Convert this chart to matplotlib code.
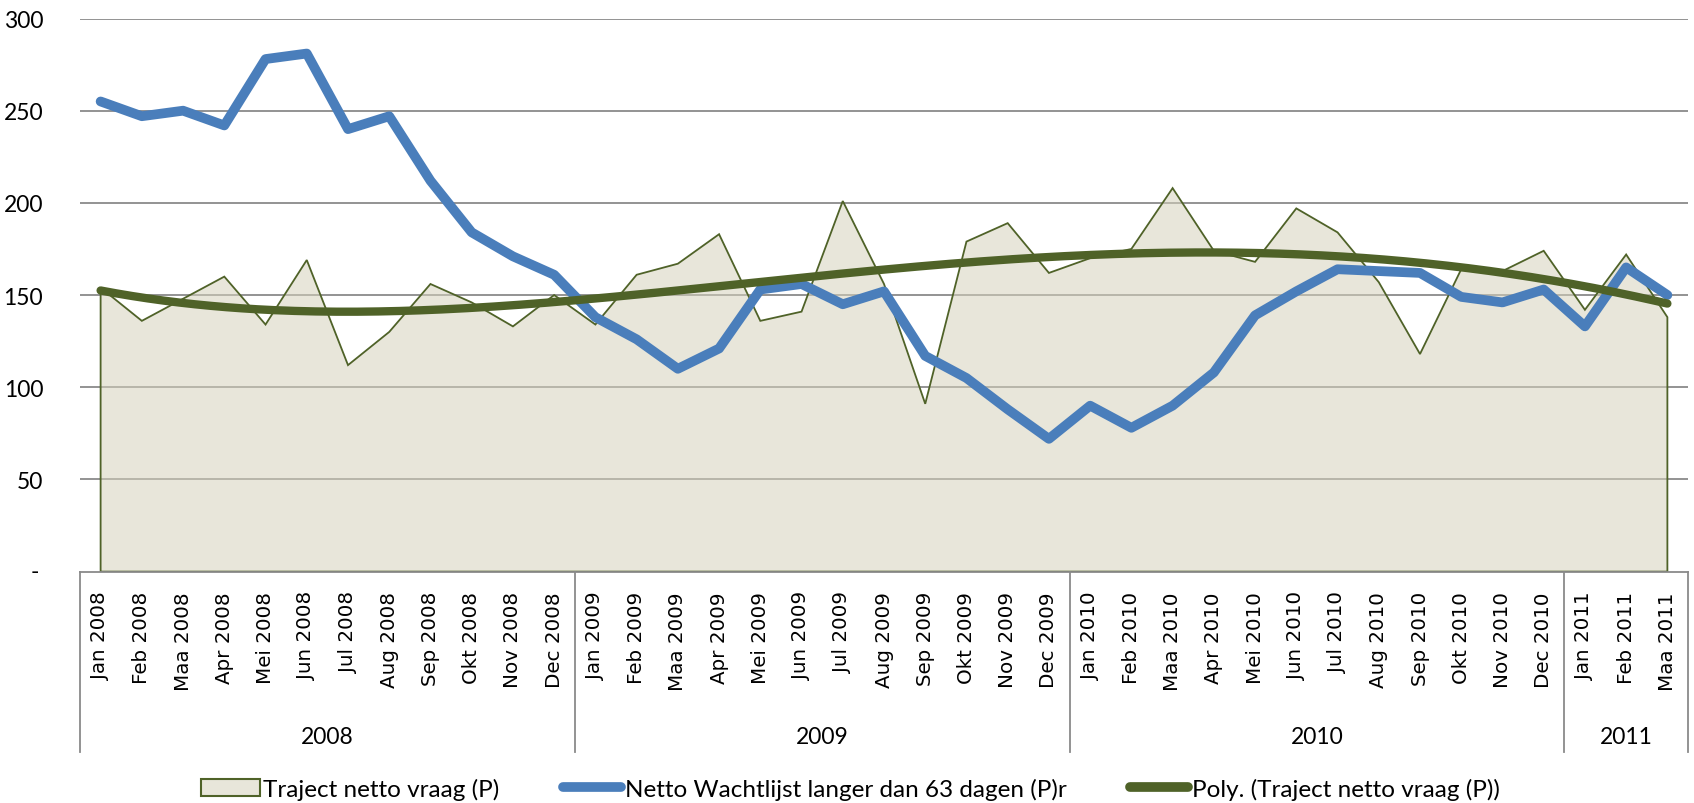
import numpy as np
import matplotlib
matplotlib.use("Agg")
import matplotlib.pyplot as plt
from matplotlib.patches import Polygon, Patch
from matplotlib.lines import Line2D
import matplotlib.transforms as mtransforms

months = ["Jan", "Feb", "Maa", "Apr", "Mei", "Jun", "Jul", "Aug", "Sep", "Okt", "Nov", "Dec"]
years = ["2008", "2009", "2010", "2011"]
months_per_year = [12, 12, 12, 3]
month_labels = [f"{m} {y}" for y, n in zip(years, months_per_year) for m in months[:n]]

traject = [154, 136, 148, 160, 134, 169, 112, 130, 156, 146, 133, 150,
           134, 161, 167, 183, 136, 141, 201, 156, 91, 179, 189, 162,
           170, 175, 208, 174, 168, 197, 184, 157, 118, 164, 163, 174,
           142, 172, 138]
wachtlijst = [255, 247, 250, 242, 278, 281, 240, 247, 212, 184, 171, 161,
              138, 126, 110, 121, 153, 156, 145, 152, 117, 105, 88, 72,
              90, 78, 90, 108, 139, 152, 164, 163, 162, 149, 146, 153,
              133, 165, 150]

label_area = "Traject netto vraag (P)"
label_line = "Netto Wachtlijst langer dan 63 dagen (P)r"
label_trend = "Poly. (Traject netto vraag (P))"

olive = "#4F6228"
blue = "#4A7EBB"
fill = (0.839, 0.827, 0.737, 0.55)
grid_col = "#8A8A8A"
txt_font = ["Lato", "DejaVu Sans"]

x = np.arange(len(traject))
# polynomial trendline like Excel
coef = np.polyfit(x, traject, 4)
xt = np.linspace(x[0], x[-1], 300)
trend = np.polyval(coef, xt)

fig = plt.figure(figsize=(16.94, 8.04), dpi=100)
ax = fig.add_axes([80 / 1694, 1 - 572.6 / 804, 1608 / 1694, 553.1 / 804])

for v in range(50, 301, 50):
    ax.axhline(v, color=grid_col, lw=1.3, zorder=0)

pts = [(x[0], 0)] + list(zip(x, traject)) + [(x[-1], 0)]
ax.add_patch(Polygon(pts, closed=True, facecolor=fill, edgecolor=olive, lw=1.3, zorder=1))

ax.plot(x, wachtlijst, color=blue, lw=7, solid_capstyle="round", solid_joinstyle="round", zorder=3)
ax.plot(xt, trend, color=olive, lw=6, solid_capstyle="round", zorder=4)

ax.set_xlim(-0.5, len(x) - 0.5)
ax.set_ylim(0, 300)

for s in ["top", "right", "left"]:
    ax.spines[s].set_visible(False)
ax.spines["bottom"].set_color(grid_col)
ax.spines["bottom"].set_linewidth(1.3)

ax.set_yticks(range(50, 301, 50))
ax.set_yticklabels([str(v) for v in range(50, 301, 50)], family=txt_font, fontsize=16.5)
ax.tick_params(axis="y", length=0, pad=26.5)
ax.text(-0.028, 0, "-", transform=mtransforms.blended_transform_factory(ax.transAxes, ax.transData),
        ha="center", va="center", fontsize=16.5, family=txt_font)

ax.set_xticks(x)
ax.set_xticklabels(month_labels, rotation=90, fontsize=14.3, family="DejaVu Sans", va="top")
ax.tick_params(axis="x", length=0, pad=14)

# multi-level category axis
trans = mtransforms.blended_transform_factory(ax.transData, ax.transAxes)
edges = np.concatenate([[0], np.cumsum(months_per_year)]) - 0.5
for e in edges:
    ax.plot([e, e], [0, -0.326], transform=trans, color=grid_col, lw=1.3, clip_on=False)
for y, a, b in zip(years, edges[:-1], edges[1:]):
    ax.text((a + b) / 2, -0.298, y, transform=trans, ha="center", va="center",
            fontsize=16.5, family=txt_font)

handles = [Patch(facecolor=fill, edgecolor=olive, lw=1.5),
           Line2D([], [], color=blue, lw=7, solid_capstyle="round"),
           Line2D([], [], color=olive, lw=7, solid_capstyle="round")]
fig.legend(handles, [label_area, label_line, label_trend], loc="center",
           bbox_to_anchor=(0.502, 0.018), ncol=3, frameon=False,
           prop={"family": txt_font, "size": 17.5}, handlelength=2.4,
           handletextpad=0.15, columnspacing=2.6)

fig.savefig("out.png", dpi=100)
